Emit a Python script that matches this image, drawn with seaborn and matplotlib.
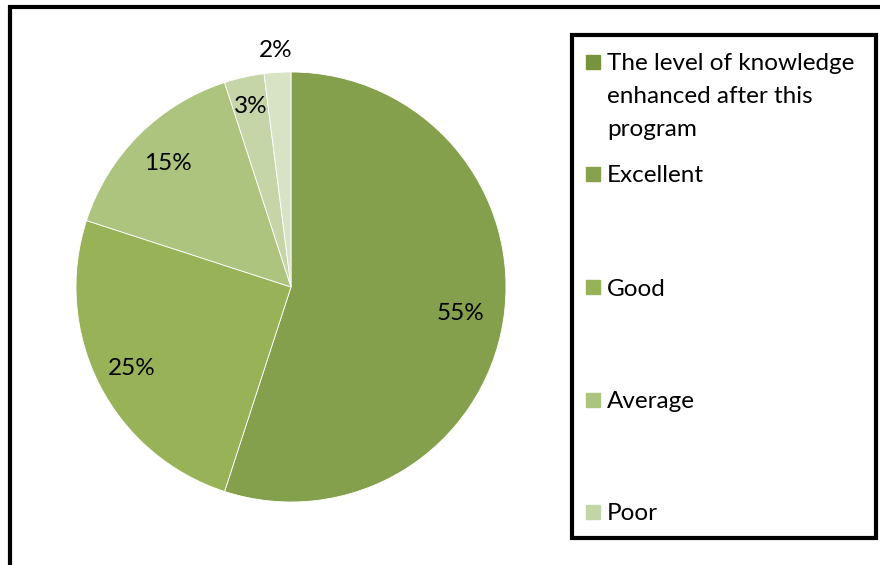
import matplotlib
matplotlib.use("Agg")
import matplotlib.pyplot as plt
import seaborn as sns
from matplotlib.patches import Rectangle
import numpy as np

sns.set_theme(style="white")
plt.rcParams['font.family'] = ['Lato', 'DejaVu Sans']

# data
labels = ["The level of knowledge\nenhanced after this\nprogram", "Excellent", "Good", "Average", "Poor"]
values = [55, 25, 15, 3, 2]
colors = ["#84a04c", "#98b257", "#adc47e", "#c5d5a7", "#d8e3c6"]
legend_colors = ["#77933c", "#86a24d", "#98b257", "#adc47e", "#c3d5a6"]
label_dist = [0.80, 0.83, 0.81, 0.86, 1.10]

fig = plt.figure(figsize=(8.8, 5.65), dpi=100)
W, H = 880, 565
FS = 17.5

# pie axes: center (291,287) radius 215 px
cx, cy, r = 291, 287, 215
ax = fig.add_axes([(cx - r) / W, (H - cy - r) / H, 2 * r / W, 2 * r / H])
wedges, _, autotexts = ax.pie(values, colors=colors, startangle=90, counterclock=False,
                              autopct="%d%%", radius=1,
                              wedgeprops=dict(edgecolor="white", linewidth=0.6),
                              textprops=dict(fontsize=FS, color="black"))
for w, t, d in zip(wedges, autotexts, label_dist):
    ang = np.deg2rad((w.theta1 + w.theta2) / 2)
    t.set_position((d * np.cos(ang), d * np.sin(ang)))
ax.set_xlim(-1, 1)
ax.set_ylim(-1, 1)
ax.set_aspect("equal")
ax.axis("off")

# outer frame
fig.patches.append(Rectangle((10 / W, -0.1), 1.2, (H - 7) / H + 0.1, transform=fig.transFigure,
                             fill=False, edgecolor="black", linewidth=3, zorder=0))

# legend box
lx0, ly0, lx1, ly1 = 572, 35, 876, 538
fig.patches.append(Rectangle((lx0 / W, (H - ly1) / H), (lx1 - lx0) / W, (ly1 - ly0) / H,
                             transform=fig.transFigure, fill=False, edgecolor="black",
                             linewidth=3, zorder=0))

# legend entries (y of first text line)
entry_y = [62, 174, 287, 400, 512]
for lab, c, y in zip(labels, legend_colors, entry_y):
    fig.patches.append(Rectangle((586 / W, (H - y - 7) / H), 14 / W, 14 / H,
                                 transform=fig.transFigure, color=c))
    for i, line in enumerate(lab.split("\n")):
        fig.text(607 / W, (H - y - i * 32.5) / H, line, fontsize=FS, va="center_baseline",
                 ha="left", color="black")

plt.savefig("out.png", dpi=100)
